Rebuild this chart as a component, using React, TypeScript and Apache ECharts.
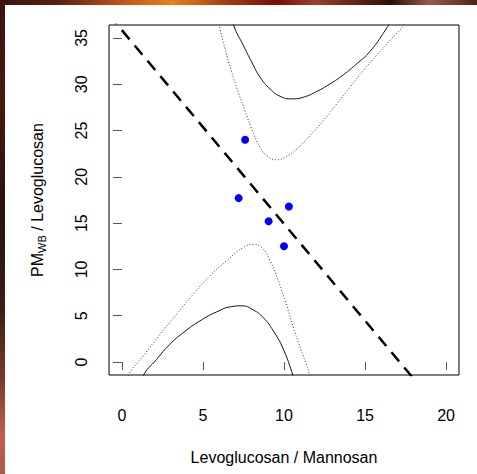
import React, { useEffect, useRef } from "react";
import * as echarts from "echarts";

// Tick labels
const xTicks = [0, 5, 10, 15, 20];
const yTicks = [0, 5, 10, 15, 20, 25, 30, 35];

// Observed points (Levoglucosan/Mannosan, PM_WB/Levoglucosan)
const pointX = [7.6, 7.2, 10.3, 9.05, 10.0];
const pointY = [24.0, 17.7, 16.8, 15.2, 12.5];

// Regression line (endpoints)
const lineX = [-0.8, 18.0];
const lineY = [37.5, -1.8];

// Upper solid band
const upSolidX = [6.85, 6.91, 7.49, 8.01, 8.52, 9.14, 9.75, 10.48, 11.19, 12.02, 12.84, 13.66, 14.49, 15.31, 16.4, 16.5];
const upSolidY = [36.9, 36.29, 34.2, 32.39, 30.77, 29.5, 28.71, 28.42, 28.6, 29.22, 30.04, 31.02, 32.21, 33.55, 36.22, 36.6];

// Upper dotted band
const upDotX = [5.97, 6.01, 6.36, 6.77, 7.18, 7.59, 8.01, 8.52, 9.03, 9.55, 10.06, 10.78, 11.6, 12.43, 13.25, 14.07, 14.9, 15.72, 16.54, 17.33, 17.4];
const upDotY = [36.8, 36.29, 33.84, 31.31, 29.14, 27.16, 25.17, 23.19, 22.18, 21.85, 22.1, 23.0, 24.45, 26.08, 27.88, 29.69, 31.5, 33.12, 34.75, 36.22, 36.6];

// Lower solid band
const lowSolidX = [1.28, 1.31, 2.14, 2.96, 3.78, 4.81, 5.85, 6.77, 7.39, 8.1, 8.72, 9.34, 9.96, 10.57, 10.6];
const lowSolidY = [-1.8, -1.52, 0.29, 1.92, 3.17, 4.44, 5.42, 5.99, 6.07, 5.63, 4.8, 3.36, 1.38, -1.52, -1.8];

// Lower dotted band
const lowDotX = [0.36, 0.39, 1.31, 2.35, 3.38, 4.4, 5.43, 6.46, 7.49, 8.1, 8.62, 9.14, 9.65, 10.17, 10.68, 11.19, 11.6, 11.62];
const lowDotY = [-1.8, -1.52, 0.65, 3.0, 5.17, 7.33, 9.32, 10.94, 12.38, 12.68, 12.38, 10.94, 8.78, 6.07, 3.17, 0.65, -1.52, -1.8];

const zip = (xs: number[], ys: number[]) => xs.map((x, i) => [x, ys[i]]);

const FONT = "'Liberation Sans', Arial, Helvetica, sans-serif";

export default function App() {
  const ref = useRef<HTMLDivElement>(null);

  useEffect(() => {
    if (!ref.current) return;
    const chart = echarts.init(ref.current, undefined, { renderer: "svg" });
    const solid = { color: "#111", width: 1, type: "solid" as const };
    const dotted = { color: "#333", width: 1, type: [1, 2] as any };
    chart.setOption({
      animation: false,
      backgroundColor: "transparent",
      grid: {
        left: 109,
        right: 18,
        top: 25,
        bottom: 99,
        show: true,
        borderColor: "#000",
        borderWidth: 1,
        backgroundColor: "#fff",
      },
      xAxis: {
        type: "value",
        min: -0.8,
        max: 20.8,
        offset: 2,
        axisLine: { show: false },
        splitLine: { show: false },
        axisTick: {
          show: true,
          length: 8,
          customValues: xTicks,
          lineStyle: { color: "#555", width: 1 },
        },
        axisLabel: {
          customValues: xTicks,
          margin: 30,
          color: "#000",
          fontSize: 16,
          fontFamily: FONT,
        },
        name: "Levoglucosan / Mannosan",
        nameLocation: "middle",
        nameGap: 72,
        nameTextStyle: { color: "#000", fontSize: 16, fontFamily: FONT },
      },
      yAxis: {
        type: "value",
        min: -1.4,
        max: 36.4,
        axisLine: { show: false },
        splitLine: { show: false },
        axisTick: {
          show: true,
          length: 9,
          customValues: yTicks,
          lineStyle: { color: "#555", width: 1 },
        },
        axisLabel: {
          customValues: yTicks,
          rotate: 90,
          margin: 20,
          color: "#000",
          fontSize: 16,
          fontFamily: FONT,
        },
        name: "{a|PM}{b|WB}{a| / Levoglucosan}",
        nameLocation: "middle",
        nameRotate: 90,
        nameGap: 62,
        nameTextStyle: {
          color: "#000",
          fontFamily: FONT,
          rich: {
            a: { fontSize: 16, lineHeight: 20, fontFamily: FONT, color: "#000" },
            b: {
              fontSize: 11,
              lineHeight: 11,
              verticalAlign: "bottom",
              fontFamily: FONT,
              color: "#000",
            },
          },
        },
      },
      series: [
        {
          type: "line",
          data: zip(upSolidX, upSolidY),
          showSymbol: false,
          smooth: true,
          lineStyle: solid,
          clip: true,
          silent: true,
        },
        {
          type: "line",
          data: zip(upDotX, upDotY),
          showSymbol: false,
          smooth: true,
          lineStyle: dotted,
          clip: true,
          silent: true,
        },
        {
          type: "line",
          data: zip(lowSolidX, lowSolidY),
          showSymbol: false,
          smooth: true,
          lineStyle: solid,
          clip: true,
          silent: true,
        },
        {
          type: "line",
          data: zip(lowDotX, lowDotY),
          showSymbol: false,
          smooth: true,
          lineStyle: dotted,
          clip: true,
          silent: true,
        },
        {
          type: "line",
          data: zip(lineX, lineY),
          showSymbol: false,
          lineStyle: { color: "#000", width: 2.5, type: [12, 8] as any },
          clip: true,
          silent: true,
        },
        {
          type: "scatter",
          data: zip(pointX, pointY),
          symbol: "circle",
          symbolSize: 8,
          itemStyle: { color: "#0000ff", opacity: 1 },
          silent: true,
        },
      ],
    });
    return () => chart.dispose();
  }, []);

  return (
    <div
      style={{
        position: "fixed",
        left: 0,
        top: 0,
        width: 477,
        height: 474,
        background: "#fff",
        overflow: "hidden",
      }}
    >
      <div
        ref={ref}
        style={{ position: "absolute", left: 0, top: 0, width: 477, height: 474 }}
      />
      <div
        style={{
          position: "absolute",
          left: 0,
          top: 0,
          width: 477,
          height: 5,
          zIndex: 2,
          background:
            "linear-gradient(to right, #3a1410 0%, #5a2010 12%, #c85a18 27%, #e8801c 36%, #a03a12 48%, #7a0c08 58%, #9a4030 66%, #6a2418 74%, #2a1008 82%, #9a5a48 90%, #4a2418 100%)",
        }}
      />
      <div
        style={{
          position: "absolute",
          left: 0,
          top: 0,
          width: 5,
          height: 474,
          zIndex: 2,
          background:
            "linear-gradient(to bottom, #3a1410 0%, #4a1810 20%, #2a1210 45%, #3a1e16 65%, #7a3a2a 80%, #c06050 92%, #b05848 100%)",
        }}
      />
    </div>
  );
}
